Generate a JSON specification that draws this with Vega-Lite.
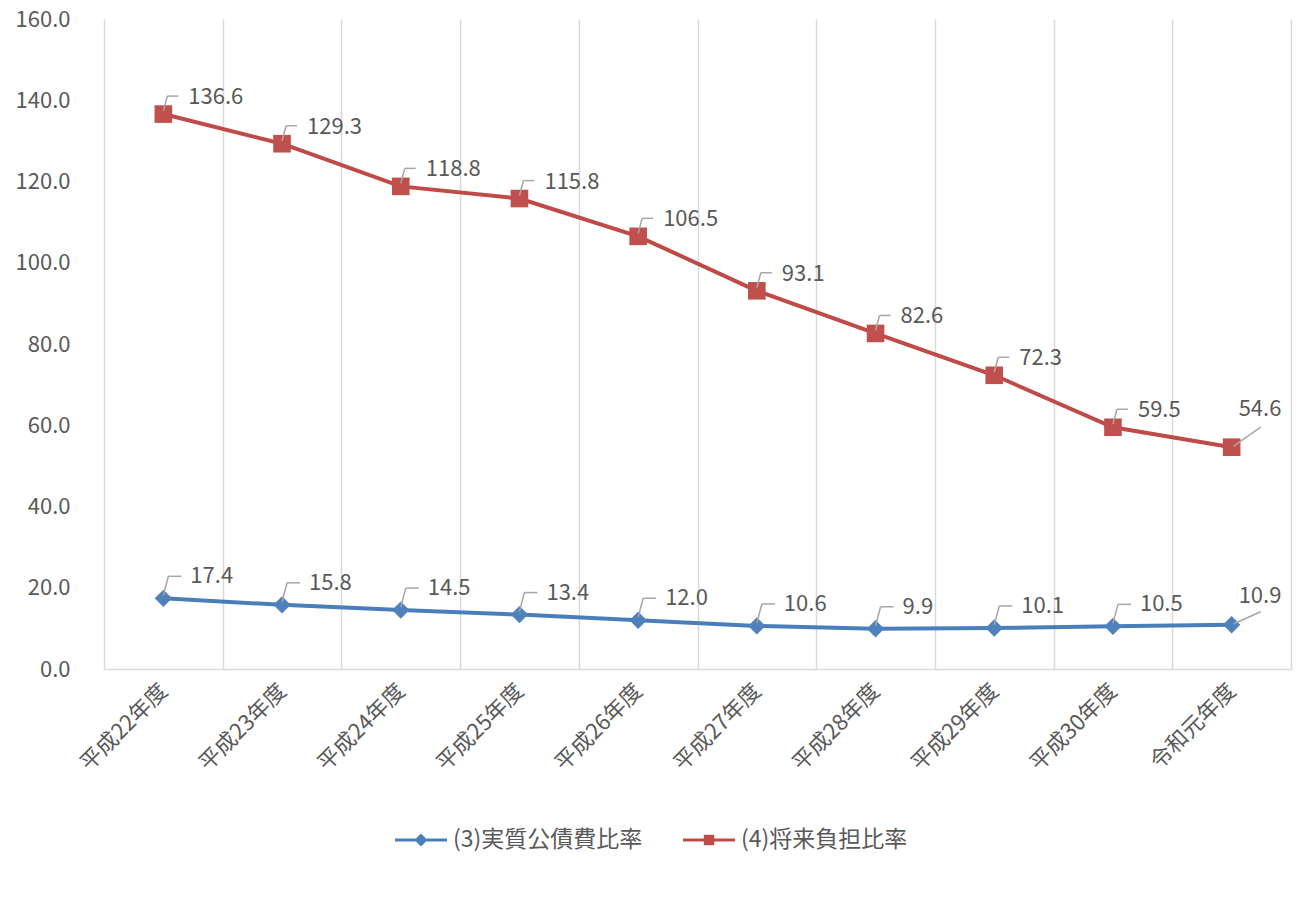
{
  "$schema": "https://vega.github.io/schema/vega-lite/v6.json",
  "width": 1187,
  "height": 650,
  "autosize": {"type": "none"},
  "padding": {"left": 104, "top": 19, "right": 9, "bottom": 230},
  "background": "white",
  "config": {
    "font": "Noto Sans CJK JP",
    "view": {"stroke": null}
  },
  "data": {
    "values": [
      {"year": "平成22年度", "series": "(3)実質公債費比率", "value": 17.4},
      {"year": "平成23年度", "series": "(3)実質公債費比率", "value": 15.8},
      {"year": "平成24年度", "series": "(3)実質公債費比率", "value": 14.5},
      {"year": "平成25年度", "series": "(3)実質公債費比率", "value": 13.4},
      {"year": "平成26年度", "series": "(3)実質公債費比率", "value": 12.0},
      {"year": "平成27年度", "series": "(3)実質公債費比率", "value": 10.6},
      {"year": "平成28年度", "series": "(3)実質公債費比率", "value": 9.9},
      {"year": "平成29年度", "series": "(3)実質公債費比率", "value": 10.1},
      {"year": "平成30年度", "series": "(3)実質公債費比率", "value": 10.5},
      {"year": "令和元年度", "series": "(3)実質公債費比率", "value": 10.9},
      {"year": "平成22年度", "series": "(4)将来負担比率", "value": 136.6},
      {"year": "平成23年度", "series": "(4)将来負担比率", "value": 129.3},
      {"year": "平成24年度", "series": "(4)将来負担比率", "value": 118.8},
      {"year": "平成25年度", "series": "(4)将来負担比率", "value": 115.8},
      {"year": "平成26年度", "series": "(4)将来負担比率", "value": 106.5},
      {"year": "平成27年度", "series": "(4)将来負担比率", "value": 93.1},
      {"year": "平成28年度", "series": "(4)将来負担比率", "value": 82.6},
      {"year": "平成29年度", "series": "(4)将来負担比率", "value": 72.3},
      {"year": "平成30年度", "series": "(4)将来負担比率", "value": 59.5},
      {"year": "令和元年度", "series": "(4)将来負担比率", "value": 54.6}
    ]
  },
  "encoding": {
    "x": {
      "field": "year",
      "type": "nominal",
      "sort": null,
      "bandPosition": 0.5,
      "scale": {"type": "band", "paddingInner": 0, "paddingOuter": 0},
      "axis": {
        "title": null,
        "grid": true,
        "tickBand": "extent",
        "gridColor": "#d9d9d9",
        "gridWidth": 1.5,
        "domainColor": "#d9d9d9",
        "domainWidth": 1.5,
        "ticks": false,
        "labelAngle": -45,
        "labelAlign": "right",
        "labelBaseline": "middle",
        "labelPadding": 18,
        "labelFontSize": 22,
        "labelColor": "#595959",
        "labelFont": "Noto Sans CJK JP"
      }
    },
    "y": {
      "field": "value",
      "type": "quantitative",
      "scale": {"domain": [0, 160], "nice": false},
      "axis": {
        "title": null,
        "grid": false,
        "domain": false,
        "ticks": false,
        "values": [0, 20, 40, 60, 80, 100, 120, 140, 160],
        "format": ".1f",
        "labelPadding": 34,
        "labelFontSize": 22,
        "labelColor": "#595959",
        "labelFont": "Noto Sans CJK JP"
      }
    }
  },
  "layer": [
    {
      "mark": {"type": "line", "strokeWidth": 4},
      "encoding": {
        "color": {
          "field": "series",
          "type": "nominal",
          "scale": {"domain": ["(3)実質公債費比率", "(4)将来負担比率"], "range": ["#4a7ebb", "#be4b48"]},
          "legend": {
            "title": null,
            "orient": "none",
            "legendX": 291,
            "legendY": 795,
            "direction": "horizontal",
            "symbolSize": 2704,
            "symbolType": "M-1,-0.06L1,-0.06L1,0.06L-1,0.06Z",
            "labelFontSize": 23,
            "labelLimit": 0,
            "labelColor": "#595959",
            "labelFont": "Noto Sans CJK JP",
            "labelOffset": 6,
            "columnPadding": 40,
            "encode": {
              "symbols": {
                "update": {
                  "shape": {"signal": "datum.value === '(3)実質公債費比率' ? 'M-1,-0.06L1,-0.06L1,0.06L-1,0.06Z M-0.25,0L0,-0.25L0.25,0L0,0.25Z' : 'M-1,-0.06L1,-0.06L1,0.06L-1,0.06Z M-0.2,-0.2L0.2,-0.2L0.2,0.2L-0.2,0.2Z'"},
                  "fill": {"signal": "datum.value === '(3)実質公債費比率' ? '#4a7ebb' : '#be4b48'"},
                  "stroke": {"value": "transparent"},
                  "strokeWidth": {"value": 0},
                  "opacity": {"value": 1},
                  "fillOpacity": {"value": 1}
                }
              }
            }
          }
        }
      }
    },
    {
      "transform": [{"filter": "datum.series === '(3)実質公債費比率'"}],
      "mark": {"type": "point", "shape": "diamond", "size": 300, "filled": true, "color": "#4f81bd", "opacity": 1}
    },
    {
      "transform": [{"filter": "datum.series === '(4)将来負担比率'"}],
      "mark": {"type": "point", "shape": "square", "size": 310, "filled": true, "color": "#c0504d", "opacity": 1}
    },
    {
      "transform": [{"filter": "datum.series === '(4)将来負担比率' && datum.year !== '令和元年度'"}],
      "mark": {"type": "rule", "color": "#a6a6a6", "strokeWidth": 1.5, "xOffset": 0, "x2Offset": 4, "yOffset": -3, "y2Offset": -18},
      "encoding": {"x2": {"field": "year", "bandPosition": 0.5}, "y2": {"field": "value"}}
    },
    {
      "transform": [{"filter": "datum.series === '(4)将来負担比率' && datum.year !== '令和元年度'"}],
      "mark": {"type": "rule", "color": "#a6a6a6", "strokeWidth": 1.5, "xOffset": 4, "x2Offset": 15, "yOffset": -18, "y2Offset": -18},
      "encoding": {"x2": {"field": "year", "bandPosition": 0.5}, "y2": {"field": "value"}}
    },
    {
      "transform": [{"filter": "datum.series === '(3)実質公債費比率' && datum.year !== '令和元年度'"}],
      "mark": {"type": "rule", "color": "#a6a6a6", "strokeWidth": 1.5, "xOffset": 0, "x2Offset": 5, "yOffset": -3, "y2Offset": -22},
      "encoding": {"x2": {"field": "year", "bandPosition": 0.5}, "y2": {"field": "value"}}
    },
    {
      "transform": [{"filter": "datum.series === '(3)実質公債費比率' && datum.year !== '令和元年度'"}],
      "mark": {"type": "rule", "color": "#a6a6a6", "strokeWidth": 1.5, "xOffset": 5, "x2Offset": 18, "yOffset": -22, "y2Offset": -22},
      "encoding": {"x2": {"field": "year", "bandPosition": 0.5}, "y2": {"field": "value"}}
    },
    {
      "transform": [{"filter": "datum.series === '(4)将来負担比率' && datum.year === '令和元年度'"}],
      "mark": {"type": "rule", "color": "#a6a6a6", "strokeWidth": 1.5, "xOffset": 2, "x2Offset": 29, "yOffset": -1, "y2Offset": -20},
      "encoding": {"x2": {"field": "year", "bandPosition": 0.5}, "y2": {"field": "value"}}
    },
    {
      "transform": [{"filter": "datum.series === '(3)実質公債費比率' && datum.year === '令和元年度'"}],
      "mark": {"type": "rule", "color": "#a6a6a6", "strokeWidth": 1.5, "xOffset": 2, "x2Offset": 29, "yOffset": -1, "y2Offset": -13},
      "encoding": {"x2": {"field": "year", "bandPosition": 0.5}, "y2": {"field": "value"}}
    },
    {
      "transform": [{"filter": "datum.series === '(4)将来負担比率' && datum.year !== '令和元年度'"}],
      "mark": {"type": "text", "align": "left", "baseline": "middle", "dx": 25, "dy": -17, "fontSize": 22, "color": "#595959", "font": "Noto Sans CJK JP"},
      "encoding": {"text": {"field": "value", "type": "quantitative", "format": ".1f"}}
    },
    {
      "transform": [{"filter": "datum.series === '(3)実質公債費比率' && datum.year !== '令和元年度'"}],
      "mark": {"type": "text", "align": "left", "baseline": "middle", "dx": 27, "dy": -22, "fontSize": 22, "color": "#595959", "font": "Noto Sans CJK JP"},
      "encoding": {"text": {"field": "value", "type": "quantitative", "format": ".1f"}}
    },
    {
      "transform": [{"filter": "datum.series === '(4)将来負担比率' && datum.year === '令和元年度'"}],
      "mark": {"type": "text", "align": "left", "baseline": "middle", "dx": 7, "dy": -38, "fontSize": 22, "color": "#595959", "font": "Noto Sans CJK JP"},
      "encoding": {"text": {"field": "value", "type": "quantitative", "format": ".1f"}}
    },
    {
      "transform": [{"filter": "datum.series === '(3)実質公債費比率' && datum.year === '令和元年度'"}],
      "mark": {"type": "text", "align": "left", "baseline": "middle", "dx": 7, "dy": -29, "fontSize": 22, "color": "#595959", "font": "Noto Sans CJK JP"},
      "encoding": {"text": {"field": "value", "type": "quantitative", "format": ".1f"}}
    }
  ]
}
